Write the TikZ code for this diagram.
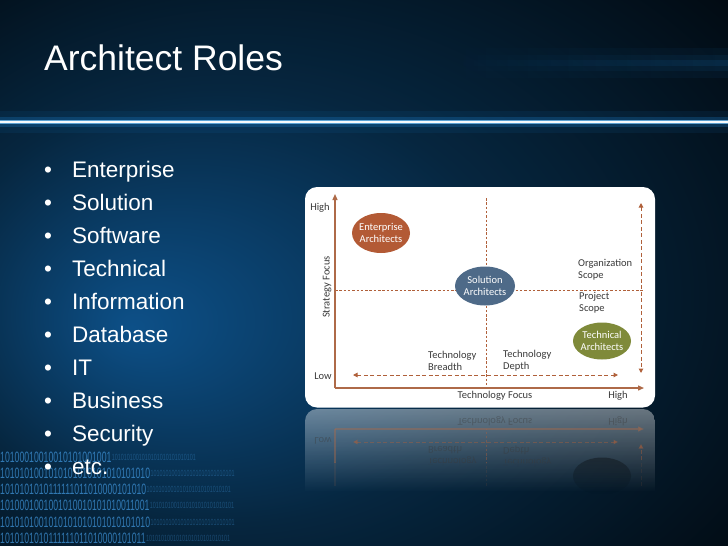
\documentclass[tikz,border=0pt]{standalone}
\usepackage{fontspec}
\setmainfont{Liberation Sans}
\newfontfamily\chartfont{Carlito}
\usetikzlibrary{arrows.meta,fadings}

\definecolor{bgdark}{HTML}{01060B}
\definecolor{bgmid}{HTML}{06263F}
\definecolor{bgglow}{HTML}{0D5088}
\definecolor{glowc}{HTML}{1E8FE6}
\definecolor{glowlight}{HTML}{7FCBFF}
\definecolor{axisbrown}{HTML}{AE6A48}
\definecolor{dashbrown}{HTML}{B0603A}
\definecolor{entc}{HTML}{B35A35}
\definecolor{solc}{HTML}{4E6A88}
\definecolor{tecc}{HTML}{7F8A3A}
\definecolor{labelc}{HTML}{3A3A3A}
\definecolor{binc}{HTML}{3F94D9}

\pgfdeclareradialshading{bgshade}{\pgfpoint{-16bp}{-5bp}}{color(0bp)=(bgglow); color(20bp)=(bgmid); color(42bp)=(bgdark); color(50bp)=(bgdark)}
\tikzfading[name=reflfade, top color=transparent!60, bottom color=transparent!100]

\tikzset{
  every node/.style={inner sep=0pt},
  titletext/.style={text=white, font=\fontsize{35.5}{40}\selectfont, anchor=base west},
  itemtext/.style={text=white, font=\fontsize{22.5}{27}\selectfont, anchor=base west},
  chartlabel/.style={text=labelc, font=\chartfont\fontsize{10.5}{12}\selectfont, align=left},
  elltext/.style={text=white, font=\chartfont\fontsize{10.5}{12}\selectfont, align=center},
  axisline/.style={draw=axisbrown, line width=1.3pt, -{Triangle[length=6pt,width=5pt]}},
  divline/.style={draw=dashbrown, line width=1pt, dash pattern=on 2.5pt off 1.8pt},
  dasharrow/.style={draw=dashbrown, line width=1pt, dash pattern=on 4pt off 2.5pt,
     {Triangle[length=4.5pt,width=4.5pt]}-{Triangle[length=4.5pt,width=4.5pt]}},
  bintext/.style={text=binc, opacity=.75, font=\fontsize{15}{15}\selectfont, anchor=west},
  bintail/.style={text=binc, opacity=.35, font=\fontsize{9}{9}\selectfont, anchor=west},
}

% lines, arrows and lower labels of the chart (shared by chart and reflection)
\newcommand\chartlower{%
  \coordinate (O) at (335,388);
  \coordinate (Yt) at (335,194);
  \coordinate (Xe) at (644,388);
  \coordinate (Vt) at (486,198);
  \coordinate (Vb) at (486,388);
  \coordinate (Hl) at (335,290);
  \coordinate (Hr) at (643,290);
  \coordinate (Al) at (353,375);
  \coordinate (Ar) at (618,375);
  \coordinate (Bt) at (641,203);
  \coordinate (Bb) at (641,373);
  \draw[divline] (Vt) -- (Vb);
  \draw[divline] (Hl) -- (Hr);
  \draw[dasharrow] (Al) -- (Ar);
  \draw[dasharrow] (Bt) -- (Bb);
  \draw[axisline] (O) -- (Yt);
  \draw[axisline] (O) -- (Xe);
  \node[chartlabel] (low) at (323,376) {Low};
  \node[chartlabel] (tf) at (495,396) {Technology Focus};
  \node[chartlabel] (hix) at (618,396) {High};
  \node[chartlabel, anchor=west] (tb) at (428,361) {Technology\\Breadth};
  \node[chartlabel, anchor=west] (td) at (503,361) {Technology\\Depth};
}

\begin{document}
\begin{tikzpicture}[x=1pt, y=-1pt]
  \useasboundingbox (0,0) rectangle (728,546);
  % background
  \shade[shading=bgshade] (0,0) rectangle (728,546);
  \coordinate (sl) at (450,63);
  \coordinate (sr) at (728,63);
  \draw[glowc, line width=30pt, opacity=.06, path fading=west] (sl) -- (sr);
  \draw[glowc, line width=16pt, opacity=.08, path fading=west] (sl) -- (sr);
  \draw[glowc, line width=6pt, opacity=.10, path fading=west] (sl) -- (sr);
  % glow line
  \coordinate (gl) at (0,122);
  \coordinate (gr) at (728,122);
  \draw[glowc, line width=22pt, opacity=.08] (gl) -- (gr);
  \draw[glowc, line width=10pt, opacity=.22] (gl) -- (gr);
  \draw[glowlight, line width=3.5pt, opacity=.7] (gl) -- (gr);
  \draw[white, line width=1.2pt, opacity=.95] (gl) -- (gr);
  % binary digits
  \foreach \yy/\bits [count=\k] in {457/10100010010010101001001,
      473/1010101001010101010101010101010,
      489/1010101010111111011010000101010,
      505/1010001001001010010101010011001,
      522/1010101001010101010101010101010,
      538/1010101010111111011010000101011}{
    \node[bintext] (bin\k) at (0,\yy) {\scalebox{0.58}[1]{\bits}};
    \node[bintail] (tail\k) at (bin\k.east) {\scalebox{0.6}[1]{1010101001010101010101010101}};
  }
  % title
  \node[titletext] (title) at (44,70) {Architect Roles};
  % bullets
  \foreach \txt [count=\i] in {Enterprise,Solution,Software,Technical,Information,Database,IT,Business,Security,etc.}{
    \node[itemtext] (dot\i) at (44,{177+33*(\i-1)}) {\textbullet};
    \node[itemtext] (item\i) at (72,{177+33*(\i-1)}) {\txt};
  }
  % chart
  \fill[white, rounded corners=12pt] (305,187) rectangle (655,407.5);
  \chartlower
  \fill[entc] (381,233) ellipse [x radius=29pt, y radius=20pt];
  \node[elltext] (ent) at (381,233) {Enterprise\\Architects};
  \fill[solc] (485,286) ellipse [x radius=30pt, y radius=19.5pt];
  \node[elltext] (sol) at (485,286) {Solution\\Architects};
  \fill[tecc] (602,341) ellipse [x radius=29pt, y radius=18.5pt];
  \node[elltext] (tec) at (602,341) {Technical\\Architects};
  \node[chartlabel] (hiy) at (320,208) {High};
  \node[chartlabel, rotate=90] (sf) at (327,287) {Strategy Focus};
  \node[chartlabel, anchor=west] (org) at (578,270) {Organization\\Scope};
  \node[chartlabel, anchor=west] (prj) at (579,303) {Project\\Scope};
  % reflection
  \begin{scope}
    \clip[rounded corners=12pt] (305,409) rectangle (655,640);
    \clip (300,400) rectangle (660,500);
    \fill[white, path fading=reflfade] (305,409) rectangle (655,492);
    \fill[black, opacity=.35, path fading=south] (602,476) ellipse [x radius=29pt, y radius=18.5pt];
    \begin{scope}
      \clip (300,400) rectangle (660,462);
      \begin{scope}[opacity=.42, shift={(0,817)}, yscale=-1, transform shape]
        \chartlower
      \end{scope}
    \end{scope}
    \begin{scope}
      \clip (300,462) rectangle (660,485);
      \begin{scope}[opacity=.12, shift={(0,817)}, yscale=-1, transform shape]
        \chartlower
      \end{scope}
    \end{scope}
  \end{scope}
\end{tikzpicture}
\end{document}
